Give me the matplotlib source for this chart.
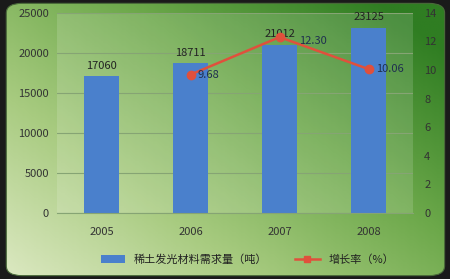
import numpy as np
import matplotlib.pyplot as plt
from matplotlib.patches import FancyBboxPatch
from matplotlib.lines import Line2D
from matplotlib.patches import Patch
from matplotlib.colors import LinearSegmentedColormap

plt.rcParams['font.family'] = ['Noto Sans CJK SC', 'DejaVu Sans']

years = ['2005', '2006', '2007', '2008']
demand = [17060, 18711, 21012, 23125]
growth_years = ['2006', '2007', '2008']
growth = [9.68, 12.30, 10.06]

fig = plt.figure(figsize=(4.5, 2.79), dpi=100, facecolor='#1a1a1a')

# background gradient, light bottom-left to dark green top-right
bg = fig.add_axes([0, 0, 1, 1])
bg.set_axis_off()
xx, yy = np.meshgrid(np.linspace(0, 1, 200), np.linspace(0, 1, 130))
t = np.clip(0.65 * xx + 0.55 * yy, 0, 1.1) / 1.1
cmap = LinearSegmentedColormap.from_list('g', ['#dde9c3', '#a8cb80', '#6ca84a', '#2f7d22'])
im = bg.imshow(t, cmap=cmap, origin='lower', extent=[0, 1, 0, 1], aspect='auto')
bg.set_xlim(0, 1)
bg.set_ylim(0, 1)
frame = FancyBboxPatch((0.014, 0.012), 0.974, 0.976, boxstyle='round,pad=0,rounding_size=0.035',
                       transform=bg.transAxes, facecolor='none', edgecolor='#4a6a3a', lw=0.8)
bg.add_patch(frame)
im.set_clip_path(frame)

ax = fig.add_axes([0.127, 0.237, 0.791, 0.717])
ax.set_facecolor((1, 1, 1, 0.14))
x = np.arange(len(years))
bars = ax.bar(x, demand, width=0.39, color='#4a80cc', zorder=2)
ax.set_xlim(-0.5, 3.5)
ax.set_ylim(0, 25000)
ax.set_yticks(range(0, 25001, 5000))
ax.set_xticks(x)
ax.set_xticklabels(years)
ax.grid(axis='y', color='#86a474', lw=0.8, zorder=0)
for s in ['top', 'right', 'left']:
    ax.spines[s].set_visible(False)
ax.spines['bottom'].set_color('#86a474')
ax.tick_params(axis='both', length=0, labelsize=8, colors='#333333', pad=6)
ax.tick_params(axis='x', pad=10)
for xi, v in zip(x, demand):
    ax.text(xi, v + 700, str(v), ha='center', va='bottom', fontsize=8, color='#222222')

ax2 = ax.twinx()
gx = [years.index(y) for y in growth_years]
ax2.plot(gx, growth, color='#e0503c', lw=1.8, marker='o', ms=6, zorder=3)
ax2.set_ylim(0, 14)
ax2.set_yticks(range(0, 15, 2))
for s in ['top', 'right', 'left', 'bottom']:
    ax2.spines[s].set_visible(False)
ax2.tick_params(axis='y', length=0, labelsize=8, colors='#333333', pad=8)
offsets = [(0.08, 0.0), (0.22, -0.25), (0.08, 0.0)]
for xi, v, (dx, dy) in zip(gx, growth, offsets):
    ax2.text(xi + dx, v + dy, f'{v:.2f}', ha='left', va='center', fontsize=8, color='#1f2f4f')

handles = [Patch(facecolor='#4a80cc', label='稀土发光材料需求量（吨）'),
           Line2D([0], [0], color='#e0503c', lw=1.8, marker='s', ms=5, label='增长率（%）')]
fig.legend(handles=handles, loc='center', bbox_to_anchor=(0.55, 0.07), ncol=2, frameon=False,
           fontsize=8, handlelength=2.2, columnspacing=2.5, labelcolor='#222222')

fig.savefig('out.png', dpi=100, facecolor=fig.get_facecolor())
